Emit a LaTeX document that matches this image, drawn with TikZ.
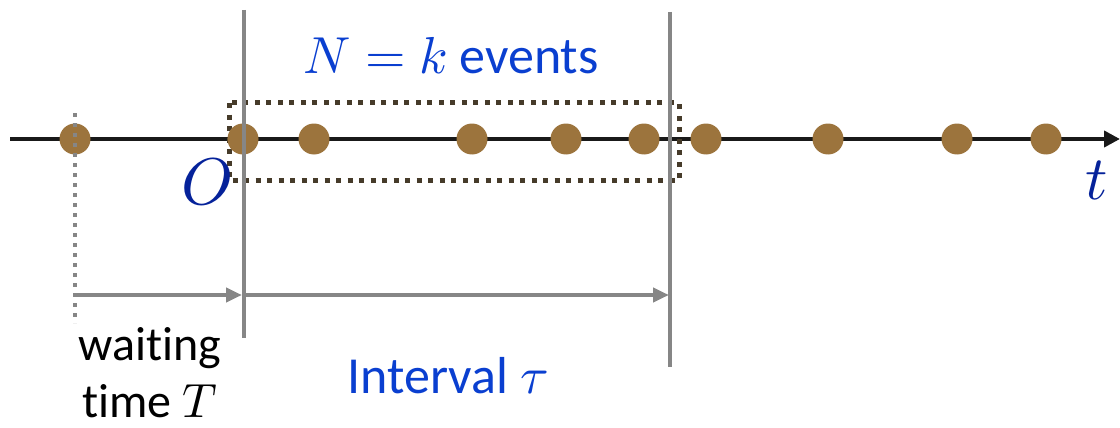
\documentclass[tikz,border=0pt]{standalone}
\usepackage{fontspec}
\usepackage{unicode-math}
\setmainfont{Carlito}[Ligatures=NoCommon]
\setmathfont{Latin Modern Math}
\usetikzlibrary{arrows.meta}
\definecolor{dotc}{HTML}{9C743D}
\definecolor{boxc}{HTML}{463B2A}
\definecolor{grayl}{HTML}{868686}
\definecolor{bluet}{HTML}{0A3FD0}
\definecolor{darkb}{HTML}{05229A}
\begin{document}
\begin{tikzpicture}[x=1pt,y=-1pt,
  ev/.style={circle,fill=dotc,minimum size=31pt,inner sep=0pt},
  grayline/.style={draw=grayl,line width=4.5pt},
  grayarrow/.style={draw=grayl,line width=4pt,-{Triangle[length=16pt,width=14pt]}},
  lbl/.style={font=\fontsize{48}{56}\selectfont,inner sep=0pt}]
\useasboundingbox (0,0) rectangle (1120,428);
% axis
\coordinate (axL) at (10,139);
\coordinate (axR) at (1120,139);
\draw[line width=4.5pt,draw=black!90,-{Triangle[length=16pt,width=16pt]}] (axL) -- (axR);
% dotted box
\draw[boxc,line width=5pt,dash pattern=on 5pt off 6.5pt] (229,103) rectangle (679,180);
% dots
\foreach \x [count=\i] in {75,243,314,472,566,644,706,828,957,1046}
  \node[ev] (d\i) at (\x,139) {};
% dotted gray line
\coordinate (wT) at (75,113);
\coordinate (wB) at (75,323);
\draw[grayl,line width=4pt,dash pattern=on 4pt off 6pt] (wT) -- (wB);
% solid verticals
\coordinate (v1T) at (244,10);
\coordinate (v1B) at (244,338);
\coordinate (v2T) at (670,12);
\coordinate (v2B) at (670,367);
\draw[grayline] (v1T) -- (v1B);
\draw[grayline] (v2T) -- (v2B);
% arrows
\coordinate (a0) at (75,295);
\coordinate (a1) at (242,295);
\coordinate (a2) at (246,295);
\coordinate (a3) at (669,295);
\draw[grayarrow] (a0) -- (a1);
\draw[grayarrow] (a2) -- (a3);
% labels
\node[lbl,text=darkb,anchor=center] (O) at (207,182) {\fontsize{66}{70}\selectfont$O$};
\node[lbl,text=darkb,anchor=center] (t) at (1097,180) {\fontsize{62}{70}\selectfont$t$};
\node[lbl,text=bluet] (Nk) at (451,56) {\fontsize{52}{60}\selectfont$N=k$ events};
\node[lbl,text=bluet] (iv) at (448,376) {\fontsize{52}{60}\selectfont Interval $\tau$};
\node[lbl,text=black] (w1) at (150,348) {waiting};
\node[lbl,text=black] (w2) at (150,401) {time $T$};
\end{tikzpicture}
\end{document}
